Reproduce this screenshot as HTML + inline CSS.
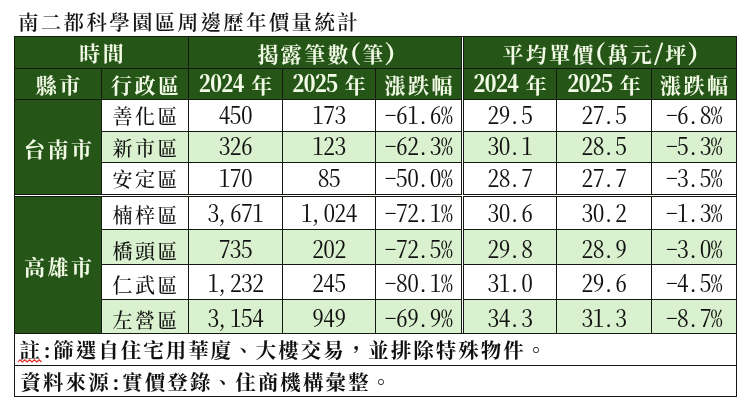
<!DOCTYPE html>
<html lang="zh-TW">
<head>
<meta charset="utf-8">
<title>南二都科學園區周邊歷年價量統計</title>
<style>
html,body{margin:0;padding:0;background:#fff;}
body{width:750px;height:409px;position:relative;overflow:hidden;will-change:transform;
  font-family:"Noto Serif CJK SC","Liberation Serif",serif;color:#111;}
.title{position:absolute;left:18px;top:6.5px;height:28px;line-height:28px;font-size:20.5px;letter-spacing:2.3px;white-space:nowrap;font-weight:600;color:#151515;}
.tbl{position:absolute;left:14px;top:36px;width:721px;height:359px;padding:1px;background:#141a12;
  display:grid;gap:1px;
  grid-template-columns:86px 86px 93px 92px 85px 1px 92px 94px 84px;
  grid-template-rows:31px 30px 31px 30px 31px 1px 32px 34px 34px 33px 31px 30px;}
.c{display:flex;align-items:center;justify-content:center;white-space:nowrap;overflow:visible;min-width:0;min-height:0;}
.t{position:relative;display:inline-block;}
.h{background:#265518;color:#f2fbe6;font-weight:700;}
.ws{background:#fff;}
.w{background:#fff;}
.g{background:#d9f1ce;}
.k{font-size:20px;letter-spacing:2.5px;position:relative;left:1.25px;font-weight:500;}
.h .k{font-weight:700;}
.y{margin-left:6px;}
.h .y{top:-1.5px;}
.h .n{top:-2.5px;margin-left:1.5px;}
.h .k{font-size:21px;letter-spacing:2.4px;left:1.2px;}
.n{font-size:23.4px;letter-spacing:-0.45px;font-feature-settings:"hwid";position:relative;top:-1.5px;}
.cm{position:relative;left:-2.5px;}
.pt{position:relative;left:-1.2px;}
.p{font-size:22.5px;font-feature-settings:"hwid";position:relative;top:-1px;}
.note{justify-content:flex-start;}
.nt{font-size:20.5px;letter-spacing:2px;font-weight:700;padding-left:4.5px;}
.p2{font-feature-settings:"hwid";letter-spacing:1px;}
.sq{position:relative;}
.sqg{position:absolute;left:-1.5px;bottom:0.8px;width:24px;height:4px;overflow:visible;}
</style>
</head>
<body>
<div class="title">南二都科學園區周邊歷年價量統計</div>
<div class="tbl">
<div class="c h" style="grid-row:1/span 1;grid-column:1/span 2;"><span class="t" style="top:-1px"><span class="k">時間</span></span></div>
<div class="c h" style="grid-row:1/span 1;grid-column:3/span 3;"><span class="t" style="top:-1px;left:1px"><span class="k">揭露筆數</span><span class="p">(</span><span class="k">筆</span><span class="p">)</span></span></div>
<div class="c h" style="grid-row:1/span 1;grid-column:7/span 3;"><span class="t" style="top:-1px"><span class="k">平均單價</span><span class="p">(</span><span class="k">萬元</span><span class="p">/</span><span class="k">坪</span><span class="p">)</span></span></div>
<div class="c h" style="grid-row:2/span 1;grid-column:1/span 1;"><span class="t"><span class="k">縣市</span></span></div>
<div class="c h" style="grid-row:2/span 1;grid-column:2/span 1;"><span class="t"><span class="k">行政區</span></span></div>
<div class="c h" style="grid-row:2/span 1;grid-column:3/span 1;"><span class="t"><span class="n">2024</span><span class="k y">年</span></span></div>
<div class="c h" style="grid-row:2/span 1;grid-column:4/span 1;"><span class="t"><span class="n">2025</span><span class="k y">年</span></span></div>
<div class="c h" style="grid-row:2/span 1;grid-column:5/span 1;"><span class="t"><span class="k">漲跌幅</span></span></div>
<div class="c h" style="grid-row:2/span 1;grid-column:7/span 1;"><span class="t"><span class="n">2024</span><span class="k y">年</span></span></div>
<div class="c h" style="grid-row:2/span 1;grid-column:8/span 1;"><span class="t"><span class="n">2025</span><span class="k y">年</span></span></div>
<div class="c h" style="grid-row:2/span 1;grid-column:9/span 1;"><span class="t"><span class="k">漲跌幅</span></span></div>
<div class="c h" style="grid-row:3/span 3;grid-column:1/span 1;"><span class="t" style="top:0.5px"><span class="k">台南市</span></span></div>
<div class="c h" style="grid-row:7/span 4;grid-column:1/span 1;"><span class="t" style="top:0.5px"><span class="k">高雄市</span></span></div>
<div class="c ws" style="grid-row:6/span 1;grid-column:1/span 9;"></div>
<div class="c ws" style="grid-row:1/span 10;grid-column:6/span 1;"></div>
<div class="c w" style="grid-row:3/span 1;grid-column:2/span 1;"><span class="t"><span class="k">善化區</span></span></div>
<div class="c w" style="grid-row:3/span 1;grid-column:3/span 1;"><span class="t"><span class="n">450</span></span></div>
<div class="c w" style="grid-row:3/span 1;grid-column:4/span 1;"><span class="t"><span class="n">173</span></span></div>
<div class="c w" style="grid-row:3/span 1;grid-column:5/span 1;"><span class="t"><span class="n">-61<span class="pt">.</span>6%</span></span></div>
<div class="c w" style="grid-row:3/span 1;grid-column:7/span 1;"><span class="t"><span class="n">29<span class="pt">.</span>5</span></span></div>
<div class="c w" style="grid-row:3/span 1;grid-column:8/span 1;"><span class="t"><span class="n">27<span class="pt">.</span>5</span></span></div>
<div class="c w" style="grid-row:3/span 1;grid-column:9/span 1;"><span class="t"><span class="n">-6<span class="pt">.</span>8%</span></span></div>
<div class="c g" style="grid-row:4/span 1;grid-column:2/span 1;"><span class="t"><span class="k">新市區</span></span></div>
<div class="c g" style="grid-row:4/span 1;grid-column:3/span 1;"><span class="t" style="top:-1px"><span class="n">326</span></span></div>
<div class="c g" style="grid-row:4/span 1;grid-column:4/span 1;"><span class="t" style="top:-1px"><span class="n">123</span></span></div>
<div class="c g" style="grid-row:4/span 1;grid-column:5/span 1;"><span class="t" style="top:-1px"><span class="n">-62<span class="pt">.</span>3%</span></span></div>
<div class="c g" style="grid-row:4/span 1;grid-column:7/span 1;"><span class="t" style="top:-1px"><span class="n">30<span class="pt">.</span>1</span></span></div>
<div class="c g" style="grid-row:4/span 1;grid-column:8/span 1;"><span class="t" style="top:-1px"><span class="n">28<span class="pt">.</span>5</span></span></div>
<div class="c g" style="grid-row:4/span 1;grid-column:9/span 1;"><span class="t" style="top:-1px"><span class="n">-5<span class="pt">.</span>3%</span></span></div>
<div class="c w" style="grid-row:5/span 1;grid-column:2/span 1;"><span class="t"><span class="k">安定區</span></span></div>
<div class="c w" style="grid-row:5/span 1;grid-column:3/span 1;"><span class="t"><span class="n">170</span></span></div>
<div class="c w" style="grid-row:5/span 1;grid-column:4/span 1;"><span class="t"><span class="n">85</span></span></div>
<div class="c w" style="grid-row:5/span 1;grid-column:5/span 1;"><span class="t"><span class="n">-50<span class="pt">.</span>0%</span></span></div>
<div class="c w" style="grid-row:5/span 1;grid-column:7/span 1;"><span class="t"><span class="n">28<span class="pt">.</span>7</span></span></div>
<div class="c w" style="grid-row:5/span 1;grid-column:8/span 1;"><span class="t"><span class="n">27<span class="pt">.</span>7</span></span></div>
<div class="c w" style="grid-row:5/span 1;grid-column:9/span 1;"><span class="t"><span class="n">-3<span class="pt">.</span>5%</span></span></div>
<div class="c w" style="grid-row:7/span 1;grid-column:2/span 1;"><span class="t" style="top:1px"><span class="k">楠梓區</span></span></div>
<div class="c w" style="grid-row:7/span 1;grid-column:3/span 1;"><span class="t"><span class="n">3<span class="cm">,</span>671</span></span></div>
<div class="c w" style="grid-row:7/span 1;grid-column:4/span 1;"><span class="t"><span class="n">1<span class="cm">,</span>024</span></span></div>
<div class="c w" style="grid-row:7/span 1;grid-column:5/span 1;"><span class="t"><span class="n">-72<span class="pt">.</span>1%</span></span></div>
<div class="c w" style="grid-row:7/span 1;grid-column:7/span 1;"><span class="t"><span class="n">30<span class="pt">.</span>6</span></span></div>
<div class="c w" style="grid-row:7/span 1;grid-column:8/span 1;"><span class="t"><span class="n">30<span class="pt">.</span>2</span></span></div>
<div class="c w" style="grid-row:7/span 1;grid-column:9/span 1;"><span class="t"><span class="n">-1<span class="pt">.</span>3%</span></span></div>
<div class="c g" style="grid-row:8/span 1;grid-column:2/span 1;"><span class="t" style="top:3px"><span class="k">橋頭區</span></span></div>
<div class="c g" style="grid-row:8/span 1;grid-column:3/span 1;"><span class="t" style="top:2px"><span class="n">735</span></span></div>
<div class="c g" style="grid-row:8/span 1;grid-column:4/span 1;"><span class="t" style="top:2px"><span class="n">202</span></span></div>
<div class="c g" style="grid-row:8/span 1;grid-column:5/span 1;"><span class="t" style="top:2px"><span class="n">-72<span class="pt">.</span>5%</span></span></div>
<div class="c g" style="grid-row:8/span 1;grid-column:7/span 1;"><span class="t" style="top:2px"><span class="n">29<span class="pt">.</span>8</span></span></div>
<div class="c g" style="grid-row:8/span 1;grid-column:8/span 1;"><span class="t" style="top:2px"><span class="n">28<span class="pt">.</span>9</span></span></div>
<div class="c g" style="grid-row:8/span 1;grid-column:9/span 1;"><span class="t" style="top:2px"><span class="n">-3<span class="pt">.</span>0%</span></span></div>
<div class="c w" style="grid-row:9/span 1;grid-column:2/span 1;"><span class="t" style="top:2.5px"><span class="k">仁武區</span></span></div>
<div class="c w" style="grid-row:9/span 1;grid-column:3/span 1;"><span class="t" style="top:1.7px"><span class="n">1<span class="cm">,</span>232</span></span></div>
<div class="c w" style="grid-row:9/span 1;grid-column:4/span 1;"><span class="t" style="top:1.7px"><span class="n">245</span></span></div>
<div class="c w" style="grid-row:9/span 1;grid-column:5/span 1;"><span class="t" style="top:1.7px"><span class="n">-80<span class="pt">.</span>1%</span></span></div>
<div class="c w" style="grid-row:9/span 1;grid-column:7/span 1;"><span class="t" style="top:1.7px"><span class="n">31<span class="pt">.</span>0</span></span></div>
<div class="c w" style="grid-row:9/span 1;grid-column:8/span 1;"><span class="t" style="top:1.7px"><span class="n">29<span class="pt">.</span>6</span></span></div>
<div class="c w" style="grid-row:9/span 1;grid-column:9/span 1;"><span class="t" style="top:1.7px"><span class="n">-4<span class="pt">.</span>5%</span></span></div>
<div class="c g" style="grid-row:10/span 1;grid-column:2/span 1;"><span class="t" style="top:3px"><span class="k">左營區</span></span></div>
<div class="c g" style="grid-row:10/span 1;grid-column:3/span 1;"><span class="t" style="top:2.4px"><span class="n">3<span class="cm">,</span>154</span></span></div>
<div class="c g" style="grid-row:10/span 1;grid-column:4/span 1;"><span class="t" style="top:2.4px"><span class="n">949</span></span></div>
<div class="c g" style="grid-row:10/span 1;grid-column:5/span 1;"><span class="t" style="top:2.4px"><span class="n">-69<span class="pt">.</span>9%</span></span></div>
<div class="c g" style="grid-row:10/span 1;grid-column:7/span 1;"><span class="t" style="top:2.4px"><span class="n">34<span class="pt">.</span>3</span></span></div>
<div class="c g" style="grid-row:10/span 1;grid-column:8/span 1;"><span class="t" style="top:2.4px"><span class="n">31<span class="pt">.</span>3</span></span></div>
<div class="c g" style="grid-row:10/span 1;grid-column:9/span 1;"><span class="t" style="top:2.4px"><span class="n">-8<span class="pt">.</span>7%</span></span></div>
<div class="c w note" style="grid-row:11/span 1;grid-column:1/span 9;"><span class="t"><span class="nt" style="position:relative;top:-1px"><span class="sq">註<svg class="sqg" viewBox="0 0 24 4"><path d="M0 3 L2 0.8 L4.4 3 L6.8 0.8 L9.2 3 L11.6 0.8 L14 3 L16.4 0.8 L18.8 3 L21.2 0.8 L23.5 3" fill="none" stroke="#e0281e" stroke-width="1.1"/></svg></span><span class="p2">:</span>篩選自住宅用華廈、大樓交易，並排除特殊物件。</span></span></div>
<div class="c w note" style="grid-row:12/span 1;grid-column:1/span 9;"><span class="t"><span class="nt" style="letter-spacing:2.12px;margin-left:0.8px">資料來源<span class="p2">:</span>實價登錄、住商機構彙整。</span></span></div>
</div>
</body>
</html>
